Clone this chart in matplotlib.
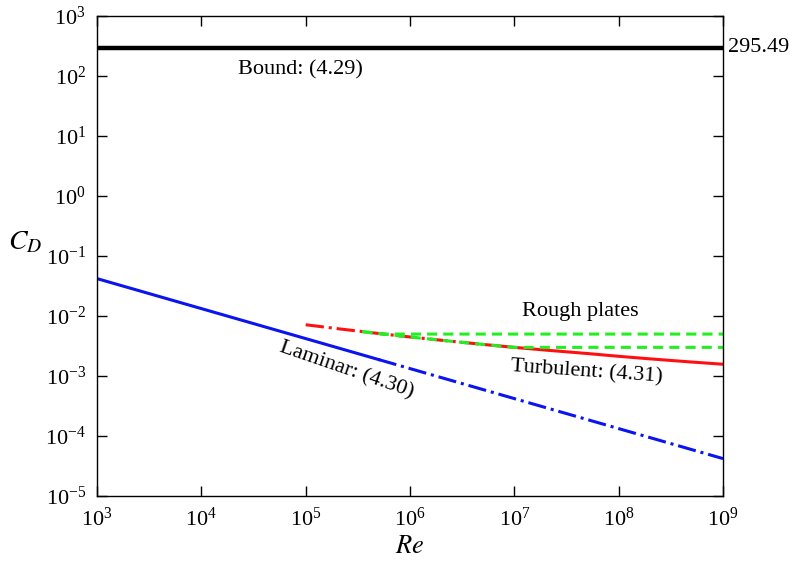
import matplotlib
matplotlib.use("Agg")
import matplotlib.pyplot as plt

plt.rcParams['font.family'] = ['Liberation Serif', 'DejaVu Serif']
plt.rcParams['mathtext.fontset'] = 'stix'

# Data
bound_re = [1e3, 1e9]
bound_cd = [295.49, 295.49]

lam_solid_re = [1e3, 5e5]
lam_solid_cd = [0.042, 1.88e-3]
lam_dash_re = [5e5, 1e9]
lam_dash_cd = [1.88e-3, 4.2e-5]

turb_dash_re = [1e5, 2e5, 5e5, 1e6, 2e6, 5e6]
turb_dash_cd = [7.15e-3, 6.16e-3, 5.11e-3, 4.47e-3, 3.94e-3, 3.36e-3]
turb_solid_re = [5e6, 1e7, 2e7, 5e7, 1e8, 2e8, 5e8, 1e9]
turb_solid_cd = [3.36e-3, 3.00e-3, 2.70e-3, 2.37e-3, 2.13e-3, 1.93e-3, 1.71e-3, 1.57e-3]

rough1_re = [3.5e5, 4.5e5, 5.6e5, 1e6, 1e7, 1e8, 1e9]
rough1_cd = [5.48e-3, 5.2e-3, 5.0e-3, 5.0e-3, 5.0e-3, 5.0e-3, 5.0e-3]
rough2_re = [3.5e5, 5e5, 1e6, 2e6, 5e6, 1e7, 1e8, 1e9]
rough2_cd = [5.48e-3, 5.11e-3, 4.47e-3, 3.94e-3, 3.36e-3, 3.0e-3, 3.0e-3, 3.0e-3]

fig = plt.figure(figsize=(7.92, 5.63), dpi=100)
ax = fig.add_axes([0.1225, 0.119, 0.7904, 0.8526])

dashdot = [6, 1.6, 1, 1.6]
ax.plot(bound_re, bound_cd, color='black', lw=3.2, solid_capstyle='butt')
ax.plot(lam_solid_re, lam_solid_cd, color='#0a14f0', lw=2.2)
ax.plot(lam_dash_re, lam_dash_cd, color='#0a14f0', lw=2.2, dashes=dashdot)
ax.plot(turb_dash_re, turb_dash_cd, color='#ff1010', lw=2.2, dashes=dashdot)
ax.plot(turb_solid_re, turb_solid_cd, color='#ff1010', lw=2.2)
ax.plot(rough1_re, rough1_cd, color='#22ee22', lw=2.2, dashes=[3.3, 2])
ax.plot(rough2_re, rough2_cd, color='#22ee22', lw=2.2, dashes=[3.3, 2])

ax.set_xscale('log')
ax.set_yscale('log')
ax.set_xlim(1e3, 1e9)
ax.set_ylim(1e-5, 1e3)
ax.set_xticks([1e3, 1e4, 1e5, 1e6, 1e7, 1e8, 1e9])
ax.set_yticks([1e-5, 1e-4, 1e-3, 1e-2, 1e-1, 1e0, 1e1, 1e2, 1e3])
ax.minorticks_off()
ax.tick_params(which='major', direction='in', length=7, width=1,
               top=True, right=True, labelsize=16, pad=8)
for s in ax.spines.values():
    s.set_linewidth(1.0)

ax.set_xlabel('$\\mathit{Re}$', fontsize=19, labelpad=4)
ax.set_ylabel('$C_D$', fontsize=20, rotation=0)
ax.yaxis.set_label_coords(-0.115, 0.502)

ax.text(1.008, 295.49, '295.49', transform=ax.get_yaxis_transform(),
        fontsize=16, va='center', ha='left')
ax.text(9e4, 126, 'Bound: (4.29)', fontsize=16, ha='center', va='center')
ax.text(4.3e7, 1.17e-2, 'Rough plates', fontsize=16, ha='center', va='center')
ax.text(4.9e7, 1.17e-3, 'Turbulent: (4.31)', fontsize=16, ha='center',
        va='center', rotation=-4)
ax.text(2.45e5, 1.26e-3, 'Laminar: (4.30)', fontsize=16, ha='center',
        va='center', rotation=-19)

fig.savefig('out.png', dpi=100)
